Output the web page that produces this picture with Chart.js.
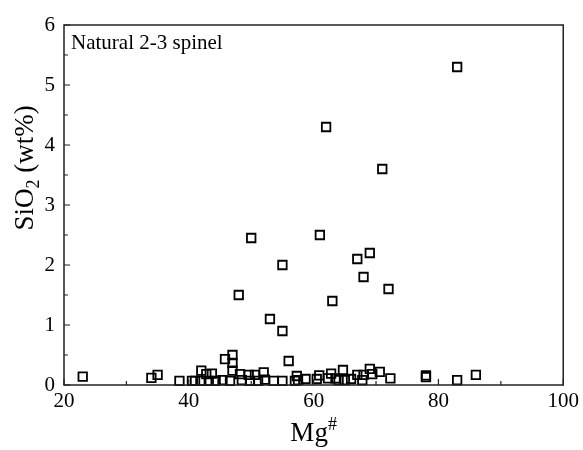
<!DOCTYPE html>
<html>
<head>
<meta charset="utf-8">
<script src="https://cdn.jsdelivr.net/npm/chart.js@4"></script>
<style>
  html, body { margin: 0; padding: 0; background: #fff; }
  #wrap { width: 583px; height: 450px; }
</style>
</head>
<body>
<div id="wrap"><canvas id="spinelChart" width="583" height="450"></canvas></div>
<script>
// Mg# vs SiO2 for natural spinel analyses
const mgNumber = [
  83, 62, 71, 50, 61, 55, 69, 67, 68, 72, 48, 63, 53, 55, 56,
  23, 34, 35, 38.5, 40.5, 41, 42, 42, 42.8, 43.2, 43.7, 44.3, 45.4, 45.8, 46.6,
  47, 47, 47, 48.2, 48.5, 49.6, 49.8, 50.6, 51.1, 52, 52.2, 53.6, 55, 57,
  57.3, 57.5, 58.7, 60.5, 60.9, 62.3, 62.8, 63.5, 64, 64.7, 65, 66, 67, 67.8,
  68, 69, 69.4, 70.6, 72.3, 78, 78, 83, 86
];
const sio2 = [
  5.3, 4.3, 3.6, 2.45, 2.5, 2.0, 2.2, 2.1, 1.8, 1.6, 1.5, 1.4, 1.1, 0.9, 0.4,
  0.14, 0.12, 0.17, 0.07, 0.07, 0.07, 0.24, 0.07, 0.18, 0.07, 0.19, 0.07, 0.08, 0.43, 0.07,
  0.5, 0.37, 0.24, 0.18, 0.08, 0.17, 0.07, 0.17, 0.07, 0.21, 0.09, 0.07, 0.07, 0.07,
  0.15, 0.08, 0.1, 0.1, 0.16, 0.11, 0.19, 0.11, 0.08, 0.25, 0.08, 0.1, 0.17, 0.08,
  0.17, 0.27, 0.18, 0.22, 0.11, 0.16, 0.13, 0.08, 0.17
];
const xTicks = [20, 40, 60, 80, 100];
const yTicks = [0, 1, 2, 3, 4, 5, 6];

const serif = '"Liberation Serif", "Times New Roman", serif';

// frame, inward ticks, axis titles with sub/superscripts, inset label
const framePlugin = {
  id: 'frame',
  afterDraw(chart) {
    const { ctx, chartArea: a, scales } = chart;
    ctx.save();
    ctx.strokeStyle = '#222';
    ctx.lineWidth = 1.5;
    ctx.strokeRect(a.left, a.top, a.right - a.left, a.bottom - a.top);

    ctx.lineWidth = 1.2;
    ctx.beginPath();
    for (let v = 0; v <= 6; v += 0.5) {
      const y = scales.y.getPixelForValue(v);
      const len = Number.isInteger(v) ? 6 : 4;
      ctx.moveTo(a.left, y);
      ctx.lineTo(a.left + len, y);
    }
    for (let v = 20; v <= 100; v += 10) {
      const x = scales.x.getPixelForValue(v);
      const len = v % 20 === 0 ? 6 : 4;
      ctx.moveTo(x, a.bottom);
      ctx.lineTo(x, a.bottom - len);
    }
    ctx.stroke();

    ctx.fillStyle = '#000';
    ctx.textBaseline = 'alphabetic';

    // x title: Mg#
    const big = '27px ' + serif;
    const small = '18px ' + serif;
    ctx.font = big;
    const wMg = ctx.measureText('Mg').width;
    ctx.font = small;
    const wHash = ctx.measureText('#').width;
    const x0 = (a.left + a.right) / 2 - (wMg + wHash) / 2;
    const by = 441;
    ctx.font = big;
    ctx.fillText('Mg', x0, by);
    ctx.font = small;
    ctx.fillText('#', x0 + wMg, by - 11);

    // y title: SiO2 (wt%)
    ctx.save();
    ctx.translate(33, 168);
    ctx.rotate(-Math.PI / 2);
    ctx.font = big;
    const w1 = ctx.measureText('SiO').width;
    const w3 = ctx.measureText(' (wt%)').width;
    ctx.font = small;
    const w2 = ctx.measureText('2').width;
    const sx = -(w1 + w2 + w3) / 2;
    ctx.font = big;
    ctx.fillText('SiO', sx, 0);
    ctx.font = small;
    ctx.fillText('2', sx + w1, 6);
    ctx.font = big;
    ctx.fillText(' (wt%)', sx + w1 + w2, 0);
    ctx.restore();

    // inset label
    ctx.font = '21px ' + serif;
    ctx.textBaseline = 'middle';
    ctx.fillText('Natural 2-3 spinel', a.left + 7, a.top + 18);
    ctx.restore();
  }
};

new Chart(document.getElementById('spinelChart'), {
  type: 'scatter',
  data: {
    datasets: [{
      data: mgNumber.map((m, i) => ({ x: m, y: sio2[i] })),
      pointStyle: 'rect',
      pointRadius: 6,
      borderColor: '#000',
      borderWidth: 1.8,
      backgroundColor: 'rgba(0,0,0,0)',
      clip: false
    }]
  },
  options: {
    responsive: false,
    animation: false,
    events: [],
    layout: { padding: { left: 0, right: 16, top: 25, bottom: 0 } },
    plugins: { legend: { display: false }, tooltip: { enabled: false } },
    scales: {
      x: {
        type: 'linear',
        min: 20,
        max: 100,
        afterFit(scale) { scale.height = 65; },
        afterBuildTicks(scale) { scale.ticks = xTicks.map(v => ({ value: v })); },
        grid: { display: false, drawTicks: false },
        border: { display: false },
        ticks: { color: '#000', padding: 4, font: { family: serif, size: 21 } }
      },
      y: {
        type: 'linear',
        min: 0,
        max: 6,
        afterFit(scale) { scale.width = 64; },
        afterBuildTicks(scale) { scale.ticks = yTicks.map(v => ({ value: v })); },
        grid: { display: false, drawTicks: false },
        border: { display: false },
        ticks: { color: '#000', padding: 9, font: { family: serif, size: 21 } }
      }
    }
  },
  plugins: [framePlugin]
});
</script>
</body>
</html>
